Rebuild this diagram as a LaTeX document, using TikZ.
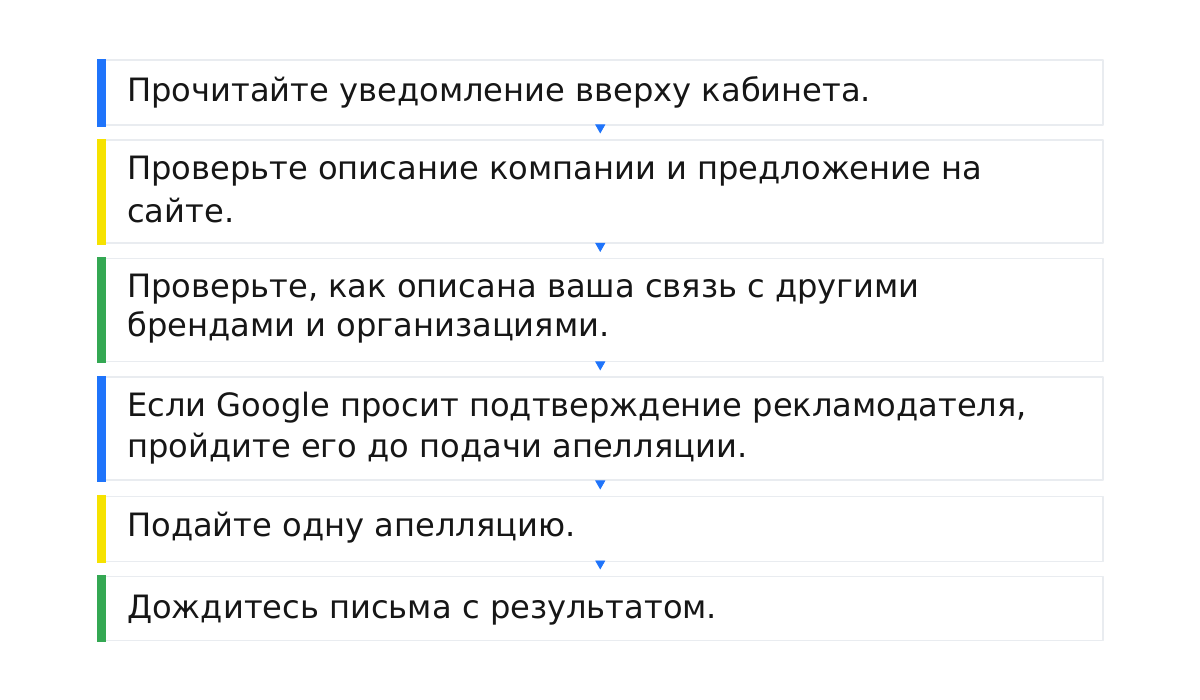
\documentclass[tikz,border=0pt]{standalone}
\usepackage{fontspec}
\setmainfont{DejaVu Sans}
\usetikzlibrary{arrows.meta}
\definecolor{stepblue}{HTML}{1F74FB}
\definecolor{stepyellow}{HTML}{F6E200}
\definecolor{stepgreen}{HTML}{34A853}
\definecolor{stepframe}{HTML}{E9ECF0}
\definecolor{steptextcol}{HTML}{161616}
\tikzset{
  stepbox/.style={draw=stepframe, line width=1.5pt, rectangle, anchor=north west,
    minimum width=1005pt, inner sep=0pt},
  steptext/.style={anchor=base west, align=left, inner sep=0pt, text=steptextcol,
    font=\fontsize{32.15}{39}\selectfont},
}
\begin{document}
\begin{tikzpicture}[x=1pt, y=-1pt, line join=round, >={Triangle[width=10pt,length=9pt]}]
\useasboundingbox (0,0) rectangle (1200,700);
\fill[white] (0,0) rectangle (1200,700);
\foreach \n/\t/\h/\c in {s1/59.5/65/stepblue, s2/139.5/103/stepyellow, s3/258/103/stepgreen,
  s4/376.5/103/stepblue, s5/495.5/65/stepyellow, s6/575.5/64/stepgreen}
  {
    \node[stepbox, minimum height=\h pt] (\n) at (97,\t) {};
    \fill[\c] ([yshift=0.75pt]\n.north west) rectangle ([xshift=8.5pt, yshift=-0.75pt]\n.south west);
  }
% base = baseline of the last line
\node[steptext] (t1) at (127,101.7) {Прочитайте уведомление вверху кабинета.};
\node[steptext] (t2) at (127,222.3) {Проверьте описание компании и предложение на\\[4pt]сайте.};
\node[steptext] (t3) at (127,337) {Проверьте, как описана ваша связь с другими\\брендами и организациями.};
\node[steptext] (t4) at (127,457) {Если Google просит подтверждение рекламодателя,\\[1pt]пройдите его до подачи апелляции.};
\node[steptext] (t5) at (127,536.7) {Подайте одну апелляцию.};
\node[steptext] (t6) at (127,618) {Дождитесь письма с результатом.};
\foreach \a/\b in {s1/s2, s2/s3, s3/s4, s4/s5, s5/s6}
  \draw[->, stepblue, line width=0.8pt, shorten >=6pt] (\a.south) -- (\b.north);
\end{tikzpicture}
\end{document}
